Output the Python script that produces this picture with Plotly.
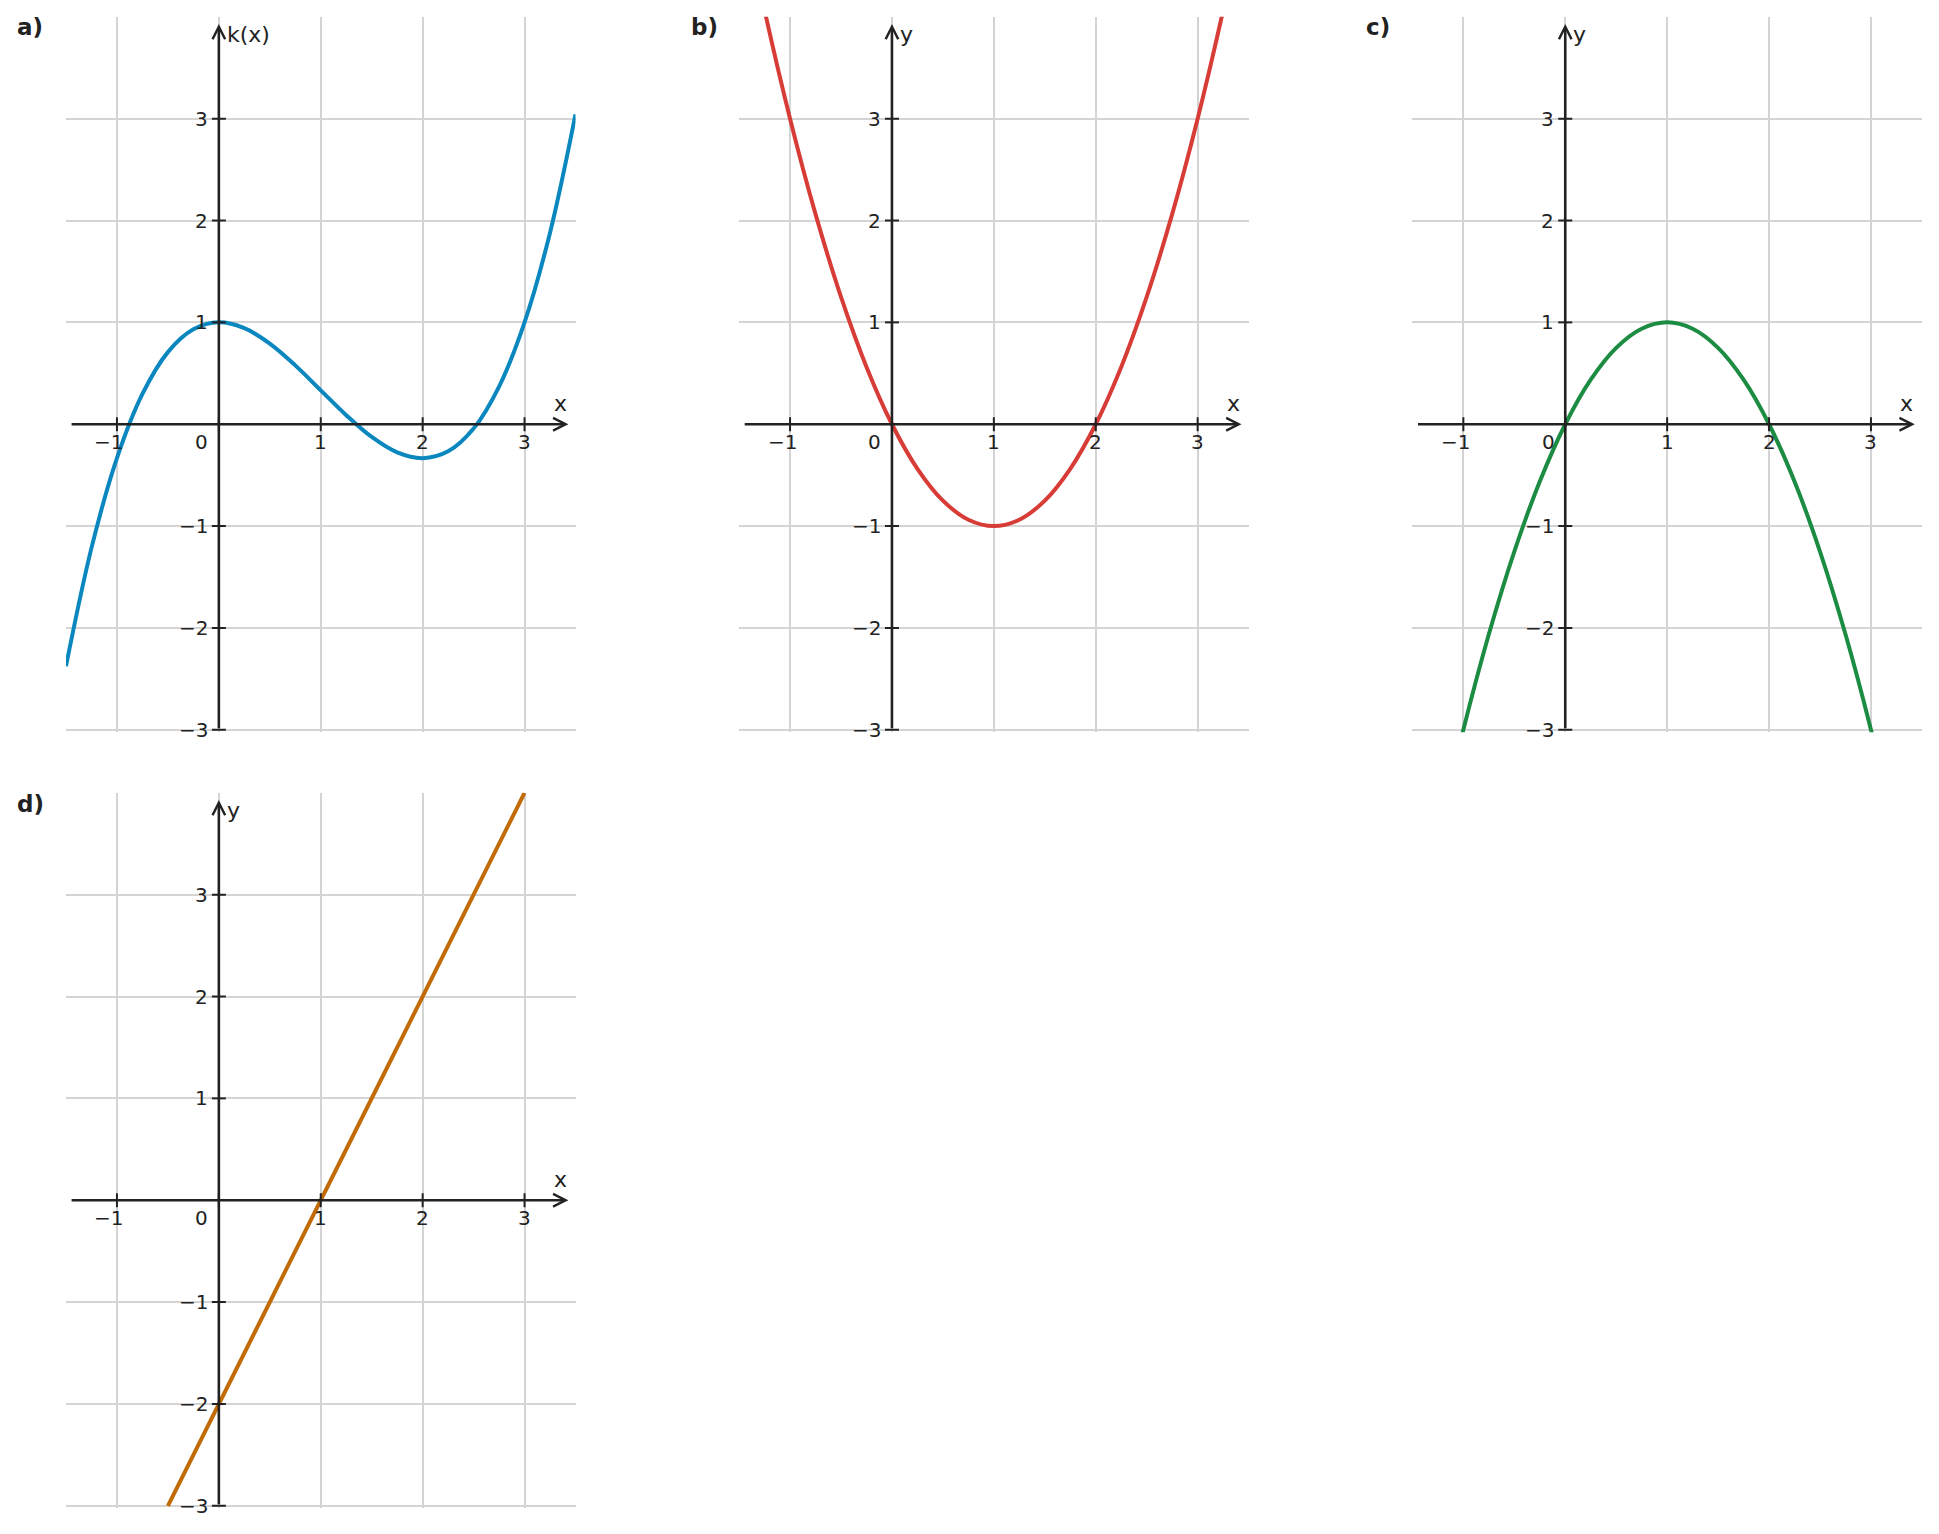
import plotly.graph_objects as go

# ---------------- data ----------------
x_curve = [-1.5, -1.25, -1.0, -0.75, -0.5, -0.25, 0.0, 0.25, 0.5, 0.75, 1.0,
           1.25, 1.5, 1.75, 2.0, 2.25, 2.5, 2.75, 3.0, 3.25, 3.5]
k_vals = [-2.375, -1.214, -0.333, 0.297, 0.708, 0.932, 1.0, 0.943, 0.792, 0.578, 0.333,
          0.089, -0.125, -0.276, -0.333, -0.266, -0.042, 0.370, 1.0, 1.880, 3.042]
b_vals = [5.25, 4.0625, 3.0, 2.0625, 1.25, 0.5625, 0.0, -0.4375, -0.75, -0.9375, -1.0,
          -0.9375, -0.75, -0.4375, 0.0, 0.5625, 1.25, 2.0625, 3.0, 4.0625, 5.25]
c_vals = [-5.25, -4.0625, -3.0, -2.0625, -1.25, -0.5625, 0.0, 0.4375, 0.75, 0.9375, 1.0,
          0.9375, 0.75, 0.4375, 0.0, -0.5625, -1.25, -2.0625, -3.0, -4.0625, -5.25]
x_line = [-0.5, 3.0]
d_vals = [-3.0, 4.0]

x_ticks = [-1, 0, 1, 2, 3]
x_tick_labels = ["−1", "0", "1", "2", "3"]
y_ticks = [-3, -2, -1, 1, 2, 3]
y_tick_labels = ["−3", "−2", "−1", "1", "2", "3"]
panel_letters = ["a)", "b)", "c)", "d)"]
y_titles = ["k(x)", "y", "y", "y"]
x_title = "x"

# ---------------- styling / layout ----------------
W, H = 1939, 1534
FONT = "DejaVu Sans"
AXIS_COL = "#222222"
GRID_COL = "#d4d4d4"
colors = ["#0a87bf", "#d83c37", "#1b8c42", "#c26a05"]
series = [(x_curve, k_vals, "spline"), (x_curve, b_vals, "spline"),
          (x_curve, c_vals, "spline"), (x_line, d_vals, "linear")]

PAD = 0.025  # small pad below -3 so that the bottom grid line is drawn
X_RANGE = [-1.5, 3.5]
Y_RANGE = [-3.0 - PAD, 4.0]
UNIT = 101.9

# pixel boxes (left, right, top, bottom)
boxes = [(66.0, 575.5, 16.8, 729.8),
         (739.1, 1248.6, 16.8, 729.8),
         (1412.4, 1921.9, 16.8, 729.8),
         (66.0, 575.5, 792.8, 1505.8)]
label_pos = [(15, 27), (689, 27), (1364, 27), (15, 804)]

fig = go.Figure()
annotations = []

for i, (box, (xs, ys, shape), col) in enumerate(zip(boxes, series, colors)):
    n = "" if i == 0 else str(i + 1)
    xa, ya = "x" + n, "y" + n
    l, r, t, b = box
    b = b + PAD * UNIT
    fig.update_layout(**{
        "xaxis" + n: dict(domain=[l / W, r / W], range=X_RANGE, anchor=ya,
                          tickvals=x_ticks, showticklabels=False, ticks="",
                          showgrid=True, gridcolor=GRID_COL, gridwidth=1.6,
                          zeroline=False, showline=False, fixedrange=True),
        "yaxis" + n: dict(domain=[1 - b / H, 1 - t / H], range=Y_RANGE, anchor=xa,
                          tickvals=y_ticks, showticklabels=False, ticks="",
                          showgrid=True, gridcolor=GRID_COL, gridwidth=1.6,
                          zeroline=False, showline=False, fixedrange=True),
    })

    # curve
    fig.add_trace(go.Scatter(x=xs, y=ys, mode="lines", xaxis=xa, yaxis=ya,
                             line=dict(color=col, width=4, shape=shape),
                             showlegend=False, hoverinfo="skip"))

    # tick marks on the axes
    fig.add_trace(go.Scatter(x=x_ticks, y=[0] * len(x_ticks), mode="markers",
                             xaxis=xa, yaxis=ya, showlegend=False, hoverinfo="skip",
                             marker=dict(symbol="line-ns", size=10,
                                         line=dict(width=2, color=AXIS_COL))))
    fig.add_trace(go.Scatter(x=[0] * len(y_ticks), y=y_ticks, mode="markers",
                             xaxis=xa, yaxis=ya, showlegend=False, hoverinfo="skip",
                             marker=dict(symbol="line-ew", size=10,
                                         line=dict(width=2, color=AXIS_COL))))

    # axis arrows
    annotations.append(dict(xref=xa, yref=ya, axref=xa, ayref=ya,
                            x=3.43, y=0, ax=-1.46, ay=0, text="",
                            showarrow=True, arrowhead=5, arrowsize=0.95,
                            arrowwidth=2.6, arrowcolor=AXIS_COL, standoff=0))
    annotations.append(dict(xref=xa, yref=ya, axref=xa, ayref=ya,
                            x=0, y=3.93, ax=0, ay=-3.0, text="",
                            showarrow=True, arrowhead=5, arrowsize=0.95,
                            arrowwidth=2.6, arrowcolor=AXIS_COL, standoff=0))

    # tick labels
    for v, lab in zip(x_ticks, x_tick_labels):
        xs_shift = -17 if v == 0 else (-8 if v < 0 else 0)
        annotations.append(dict(xref=xa, yref=ya, x=v, y=0, text=lab,
                                showarrow=False, xanchor="center", yanchor="middle",
                                xshift=xs_shift, yshift=-18,
                                font=dict(family=FONT, size=20, color=AXIS_COL)))
    for v, lab in zip(y_ticks, y_tick_labels):
        annotations.append(dict(xref=xa, yref=ya, x=0, y=v, text=lab,
                                showarrow=False, xanchor="right", yanchor="middle",
                                xshift=-9, yshift=0,
                                font=dict(family=FONT, size=20, color=AXIS_COL)))

    # axis titles
    annotations.append(dict(xref=xa, yref=ya, x=3.35, y=0, text=x_title,
                            showarrow=False, xanchor="center", yanchor="middle",
                            yshift=21, font=dict(family=FONT, size=22, color=AXIS_COL)))
    annotations.append(dict(xref=xa, yref=ya, x=0, y=3.83, text=y_titles[i],
                            showarrow=False, xanchor="left", yanchor="middle",
                            xshift=6, font=dict(family=FONT, size=22, color=AXIS_COL)))

    # panel letter
    px, py = label_pos[i]
    annotations.append(dict(xref="paper", yref="paper", x=px / W, y=1 - py / H,
                            text="<b>" + panel_letters[i] + "</b>", showarrow=False,
                            xanchor="left", yanchor="middle",
                            font=dict(family=FONT, size=23, color=AXIS_COL)))

fig.update_layout(width=W, height=H, margin=dict(l=0, r=0, t=0, b=0),
                  paper_bgcolor="white", plot_bgcolor="white",
                  annotations=annotations, showlegend=False,
                  font=dict(family=FONT, color=AXIS_COL))

fig.write_html("out.html")
